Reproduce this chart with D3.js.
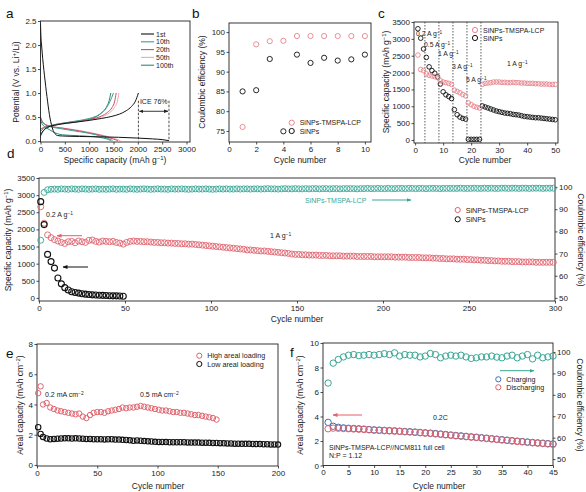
<!DOCTYPE html>
<html><head><meta charset="utf-8">
<script src="https://cdn.jsdelivr.net/npm/d3@7"></script>
<style>
body{margin:0;background:#fff;}
svg{display:block;font-family:"Liberation Sans",Arial,sans-serif;}
</style></head><body>
<svg id="fig" width="586" height="492"></svg>
<script>
// ---------------- DATA ----------------
// Panel a: voltage profiles [capacity mAh/g, potential V]
const aDis1st = [[0,2.45],[8,2.2],[22,2.0],[45,1.72],[70,1.47],[95,1.25],[120,1.03],[145,0.83],[170,0.64],[195,0.48],[225,0.34],[260,0.22],[300,0.15],[350,0.115],[450,0.105],[800,0.095],[1200,0.088],[1600,0.078],[2000,0.062],[2300,0.045],[2500,0.03],[2640,0.008]];
const aCh1st = [[0,0.13],[60,0.22],[150,0.29],[250,0.32],[450,0.36],[700,0.39],[1000,0.43],[1250,0.47],[1450,0.51],[1620,0.56],[1760,0.63],[1870,0.72],[1950,0.83],[2012,1.0]];
const aDis10 = [[0,0.48],[30,0.4],[80,0.35],[200,0.3],[400,0.26],[700,0.21],[1000,0.16],[1250,0.1],[1400,0.05],[1480,0.01]];
const aCh10 = [[0,0.2],[60,0.26],[200,0.32],[450,0.37],[750,0.42],[1000,0.47],[1150,0.52],[1270,0.6],[1360,0.7],[1430,0.83],[1500,1.0]];
const aDis20 = [[0,0.5],[30,0.42],[80,0.36],[200,0.31],[450,0.27],[800,0.21],[1100,0.15],[1350,0.09],[1500,0.04],[1590,0.01]];
const aCh20 = [[0,0.24],[60,0.28],[200,0.32],[450,0.37],[750,0.41],[1050,0.46],[1250,0.52],[1380,0.6],[1470,0.7],[1525,0.83],[1555,1.0]];
const aDis50 = [[0,0.49],[30,0.42],[80,0.36],[200,0.31],[450,0.27],[800,0.22],[1150,0.15],[1400,0.09],[1550,0.04],[1640,0.01]];
const aCh50 = [[0,0.25],[60,0.28],[200,0.32],[450,0.36],[750,0.41],[1050,0.45],[1280,0.51],[1420,0.59],[1520,0.7],[1580,0.83],[1610,1.0]];
const aDis100 = [[0,0.44],[30,0.36],[80,0.3],[180,0.24],[300,0.17],[450,0.13],[800,0.11],[1100,0.09],[1300,0.06],[1400,0.03],[1440,0.01]];
const aCh100 = [[0,0.1],[50,0.2],[150,0.28],[300,0.33],[550,0.37],[800,0.41],[1000,0.45],[1150,0.51],[1260,0.59],[1350,0.7],[1410,0.84],[1445,1.0]];
const aLegend = ["1st","10th","20th","50th","100th"];
const aColors = ["#111111","#3f9e8e","#c9506a","#f2a7ae","#2b8a7c"];
const aIce = {x0:2012, x1:2640, label:"ICE 76%"};

// Panel b: Coulombic efficiency, first 10 cycles
const bCycles = [1,2,3,4,5,6,7,8,9,10];
const bLCP = [76.0,96.9,97.7,97.8,99.0,99.0,99.0,99.0,99.0,99.0];
const bSi  = [85.0,85.3,93.2,74.9,94.3,92.2,93.5,92.8,93.1,94.3];

// Panel c: rate capability
const cCycles = d3.range(1,51);
const cLCP = [2520,2090,2060,1960,1920,1900,1880,1850,1760,1720,
              1700,1680,1650,1480,1440,1400,1350,1310,1100,1050,
              1000,970,950,1650,1680,1690,1700,1720,1720,1720,
              1710,1710,1700,1700,1710,1700,1700,1690,1690,1680,
              1680,1680,1670,1670,1660,1660,1660,1650,1650,1650];
const cSi = [3300,3020,2700,2450,2170,2060,1980,1870,1660,1430,
             1340,1290,1230,900,750,680,640,620,20,20,
             20,20,20,1010,980,950,920,890,860,840,
             820,800,790,780,760,750,740,720,700,690,
             680,670,660,660,650,640,630,620,610,600];
const cRateLines = [3.5,8.5,13.5,18.5,23.5];

// Panel d: long cycling at 1 A/g (every second cycle)
const dCycles = d3.range(1,300,2);
const dLCP = [2660,2180,1840,1760,1700,1660,1620,1590,1640,1650,
              1610,1660,1640,1620,1680,1690,1650,1630,1660,1650,
              1640,1650,1620,1600,1570,1620,1650,1660,1650,1650,
              1640,1640,1630,1620,1620,1610,1610,1600,1600,1590,
              1590,1580,1580,1570,1570,1560,1550,1540,1530,1520,
              1510,1500,1490,1480,1470,1460,1450,1440,1430,1420,
              1400,1400,1390,1380,1370,1370,1360,1350,1340,1330,
              1320,1310,1300,1280,1270,1270,1260,1260,1250,1250,
              1250,1240,1240,1240,1230,1230,1230,1230,1220,1220,
              1220,1220,1210,1210,1210,1210,1210,1200,1200,1200,
              1200,1200,1200,1190,1190,1190,1190,1180,1180,1180,
              1180,1170,1170,1170,1160,1160,1150,1150,1140,1140,
              1140,1130,1130,1130,1120,1120,1110,1110,1100,1100,
              1090,1090,1080,1080,1070,1070,1070,1060,1060,1060,
              1050,1050,1050,1050,1040,1040,1040,1040,1040,1040];
const dCE = [76.0,97.6,98.8,99.0,99.1,99.0,99.2,99.1,99.0,99.2,
             99.1,99.0,99.2,99.1,99.0,99.1,99.2,99.0,99.1,99.0,
             99.1,99.2,99.0,99.1,99.1,99.0,99.2,99.1,99.0,99.1,
             99.2,99.1,99.0,99.1,99.2,99.1,99.1,99.0,99.2,99.1,
             99.1,99.2,99.1,99.0,99.1,99.2,99.1,99.1,99.2,99.1,
             99.0,99.1,99.2,99.1,99.2,99.1,99.1,99.2,99.1,99.2,
             99.2,99.1,99.2,99.2,99.1,99.2,99.3,99.2,99.2,99.1,
             99.2,99.3,99.2,99.2,99.3,99.2,99.2,99.3,99.2,99.3,
             99.3,99.2,99.3,99.3,99.2,99.3,99.3,99.2,99.3,99.3,
             99.3,99.3,99.2,99.3,99.3,99.4,99.3,99.3,99.4,99.3,
             99.3,99.4,99.3,99.3,99.4,99.4,99.3,99.4,99.4,99.3,
             99.4,99.4,99.3,99.4,99.4,99.4,99.3,99.4,99.4,99.4,
             99.4,99.4,99.5,99.4,99.4,99.4,99.5,99.4,99.4,99.5,
             99.4,99.5,99.4,99.4,99.5,99.5,99.4,99.5,99.5,99.4,
             99.5,99.5,99.4,99.5,99.5,99.5,99.4,99.5,99.5,99.5];
const dSiCycles = d3.range(1,50,2);
const dSi = [2810,2140,1270,1060,870,580,410,300,230,180,
             160,140,120,110,100,90,85,80,75,70,
             65,60,60,55,50];

// Panel e: areal loading
const eHighCycles = [1,3].concat(d3.range(5,151,3));
const eHigh = [4.75,5.2,4.0,4.1,3.8,3.7,3.6,3.55,3.5,3.45,
               3.4,3.35,3.4,3.2,3.1,3.3,3.45,3.5,3.5,3.45,
               3.55,3.6,3.65,3.7,3.8,3.75,3.8,3.8,3.85,3.9,
               3.85,3.8,3.75,3.7,3.65,3.6,3.6,3.55,3.5,3.5,
               3.45,3.45,3.4,3.35,3.3,3.3,3.25,3.2,3.15,3.1,3.0];
const eLowCycles = [1,3].concat(d3.range(5,201,3));
const eLow = [2.5,2.05,1.85,1.75,1.7,1.72,1.74,1.75,1.76,1.76,
              1.75,1.76,1.75,1.74,1.72,1.72,1.7,1.7,1.7,1.69,
              1.7,1.7,1.68,1.68,1.66,1.65,1.63,1.6,1.62,1.6,
              1.58,1.56,1.55,1.53,1.52,1.52,1.51,1.5,1.5,1.5,
              1.5,1.5,1.49,1.48,1.48,1.48,1.47,1.47,1.46,1.45,
              1.45,1.44,1.43,1.42,1.42,1.41,1.41,1.4,1.4,1.4,
              1.39,1.38,1.38,1.37,1.37,1.36,1.36,1.35];

// Panel f: full cell
const fCycles = d3.range(1,46);
const fDis = [3.0,3.05,3.04,3.02,3.0,2.98,2.96,2.94,2.91,2.88,
              2.86,2.84,2.82,2.8,2.78,2.75,2.73,2.7,2.67,2.64,
              2.61,2.58,2.54,2.5,2.46,2.42,2.39,2.35,2.31,2.28,
              2.24,2.2,2.16,2.12,2.08,2.04,2.0,1.96,1.93,1.89,
              1.85,1.82,1.79,1.76,1.73];
const fCh = [3.52,3.2,3.12,3.07,3.04,3.02,3.0,2.97,2.94,2.91,
             2.89,2.87,2.85,2.83,2.8,2.78,2.76,2.73,2.7,2.67,
             2.64,2.61,2.57,2.53,2.49,2.45,2.42,2.38,2.34,2.31,
             2.27,2.23,2.19,2.15,2.11,2.07,2.03,1.99,1.96,1.92,
             1.88,1.85,1.82,1.79,1.76];
const fCE = [85.5,94.8,96.5,97.7,98.5,98.8,98.3,98.5,98.8,98.5,
             98.8,99.2,98.8,99.6,98.1,98.8,98.5,98.5,97.7,98.1,
             99.3,98.8,97.3,98.1,98.5,98.1,98.5,97.7,97.0,97.3,
             97.7,97.7,98.1,97.6,97.3,98.1,98.5,97.3,98.1,98.8,
             96.8,98.5,97.3,97.7,98.1];

// ---------------- DRAWING ----------------
const FONT = '"Liberation Sans", Arial, sans-serif';
const INK = "#222";
const RED = "#e0626d", RED_B = "#e8848d", TEAL = "#38a796", BLUE = "#3e70b8", BLACK = "#111";
const svg = d3.select("#fig");

const defs = svg.append("defs");
function arrowMarker(id, color){
  defs.append("marker").attr("id",id).attr("viewBox","0 0 10 10").attr("refX",9).attr("refY",5)
    .attr("markerWidth",5).attr("markerHeight",5).attr("orient","auto-start-reverse")
    .append("path").attr("d","M0,1 L10,5 L0,9 Z").attr("fill",color);
}
arrowMarker("arR",RED); arrowMarker("arK",BLACK); arrowMarker("arT",TEAL); arrowMarker("arI","#222");

function styleAxis(sel){
  sel.select(".domain").remove();
  sel.selectAll("line").attr("stroke",INK).attr("stroke-width",0.8);
  sel.selectAll("text").attr("font-size",8).attr("fill",INK).attr("font-family",FONT);
}
function frame(g,x,y){
  const [x0,x1]=x.range(), [y0,y1]=y.range();
  g.append("rect").attr("x",x0).attr("y",y1).attr("width",x1-x0).attr("height",y0-y1)
    .attr("fill","none").attr("stroke",INK).attr("stroke-width",0.9);
}
function axes(g,x,y,o){
  g.append("g").attr("transform",`translate(0,${y.range()[0]})`)
   .call(d3.axisBottom(x).tickValues(o.xt).tickFormat(o.xf||d3.format("d")).tickSize(2.5).tickPadding(1.5))
   .call(styleAxis);
  g.append("g").attr("transform",`translate(${x.range()[0]},0)`)
   .call(d3.axisLeft(y).tickValues(o.yt).tickFormat(o.yf||d3.format("d")).tickSize(2.5).tickPadding(1.5))
   .call(styleAxis);
  if(o.y2){
    g.append("g").attr("transform",`translate(${x.range()[1]},0)`)
     .call(d3.axisRight(o.y2).tickValues(o.y2t).tickFormat(d3.format("d")).tickSize(2.5).tickPadding(1.5))
     .call(styleAxis);
  }
  frame(g,x,y);
}
// rich text: parts = array of strings or {sup:"..."}
function rich(x,y,parts,o={}){
  const size=o.size||8.5;
  const t=svg.append("text").attr("x",x).attr("y",y).attr("font-size",size)
    .attr("text-anchor",o.anchor||"middle").attr("fill",o.fill||INK).attr("font-family",FONT);
  if(o.rotate) t.attr("transform",`rotate(${o.rotate},${x},${y})`);
  let up=false;
  parts.forEach(p=>{
    if(typeof p==="string"){
      const s=t.append("tspan").text(p);
      if(up){ s.attr("dy",size*0.35); up=false; }
    } else {
      t.append("tspan").text(p.sup).attr("font-size",size*0.7).attr("dy",-size*0.35);
      up=true;
    }
  });
  return t;
}
function letter(x,y,s){
  svg.append("text").attr("x",x).attr("y",y).attr("font-size",13.5).attr("fill","#111").attr("font-family",FONT).text(s);
}
function dots(g,xs,ys,x,y,color,r,sw){
  g.append("g").selectAll("circle").data(xs.map((d,i)=>[d,ys[i]])).join("circle")
    .attr("cx",d=>x(d[0])).attr("cy",d=>y(d[1])).attr("r",r)
    .attr("fill","none").attr("stroke",color).attr("stroke-width",sw||0.9);
}
function arrow(x1,y1,x2,y2,color,id){
  svg.append("line").attr("x1",x1).attr("y1",y1).attr("x2",x2).attr("y2",y2)
    .attr("stroke",color).attr("stroke-width",1).attr("marker-end",`url(#${id})`);
}
function legendDot(x,y,color,label,size){
  svg.append("circle").attr("cx",x).attr("cy",y).attr("r",2.6).attr("fill","none").attr("stroke",color).attr("stroke-width",1);
  svg.append("text").attr("x",x+8).attr("y",y+2.5).attr("font-size",size||7).attr("fill",INK).attr("font-family",FONT).text(label);
}
function txt(x,y,parts,size,fill){ return rich(x,y,parts,{size:size||7,anchor:"start",fill:fill||INK}); }
const capLabel = ["Specific capacity (mAh g",{sup:"−1"},")"];

// ===== Panel a =====
{
  const g=svg.append("g");
  const x=d3.scaleLinear().domain([0,3072]).range([40.5,190]);
  const y=d3.scaleLinear().domain([-0.02,2.5]).range([142,21]);
  const line=d3.line().x(d=>x(d[0])).y(d=>y(d[1])).curve(d3.curveMonotoneX);
  const series=[[aDis100,aCh100,4],[aDis50,aCh50,3],[aDis20,aCh20,2],[aDis10,aCh10,1],[aDis1st,aCh1st,0]];
  series.forEach(([dis,ch,ci])=>{
    [dis,ch].forEach(s=>g.append("path").attr("d",line(s)).attr("fill","none").attr("stroke",aColors[ci]).attr("stroke-width",1));
  });
  // ICE annotation
  [aIce.x0,aIce.x1].forEach(v=>g.append("line").attr("x1",x(v)).attr("x2",x(v)).attr("y1",y(0.84)).attr("y2",y(0))
      .attr("stroke","#222").attr("stroke-width",0.8).attr("stroke-dasharray","2.5,1.5"));
  g.append("line").attr("x1",x(aIce.x0)+1).attr("x2",x(aIce.x1)-1).attr("y1",y(0.62)).attr("y2",y(0.62))
    .attr("stroke","#222").attr("stroke-width",0.9).attr("marker-end","url(#arI)").attr("marker-start","url(#arI)");
  g.append("text").attr("x",x((aIce.x0+aIce.x1)/2)).attr("y",y(0.78)).attr("text-anchor","middle")
    .attr("font-size",7).attr("fill",INK).attr("font-family",FONT).text(aIce.label);
  axes(g,x,y,{xt:d3.range(0,3001,500),yt:[0,0.5,1,1.5,2,2.5],yf:d3.format(".1f")});
  // legend
  aLegend.forEach((l,i)=>{
    const yy=34+i*7.8;
    g.append("line").attr("x1",141).attr("x2",154).attr("y1",yy).attr("y2",yy).attr("stroke",aColors[i]).attr("stroke-width",1.1);
    g.append("text").attr("x",156).attr("y",yy+2.5).attr("font-size",7).attr("fill",INK).attr("font-family",FONT).text(l);
  });
  rich(115,162.5,capLabel);
  rich(19,82,["Potential (V vs. Li",{sup:"+"},"/Li)"],{rotate:-90});
  letter(6,18,"a");
}

// ===== Panel b =====
{
  const g=svg.append("g");
  const x=d3.scaleLinear().domain([0,10.45]).range([229,371]);
  const y=d3.scaleLinear().domain([72.2,102.3]).range([142,23]);
  axes(g,x,y,{xt:d3.range(0,11,2),yt:d3.range(75,101,5)});
  dots(g,bCycles,bSi,x,y,BLACK,2.6);
  dots(g,bCycles,bLCP,x,y,RED_B,2.6);
  legendDot(291.7,122.7,RED_B,"SiNPs-TMSPA-LCP");
  legendDot(291.7,131,BLACK,"SiNPs");
  rich(300,162.5,["Cycle number"]);
  rich(205,82,["Coulombic efficiency (%)"],{rotate:-90});
  letter(192,18,"b");
}

// ===== Panel c =====
{
  const g=svg.append("g");
  const x=d3.scaleLinear().domain([-0.4,51]).range([414,558]);
  const y=d3.scaleLinear().domain([-89,3500]).range([143,22]);
  cRateLines.forEach(v=>g.append("line").attr("x1",x(v)).attr("x2",x(v)).attr("y1",y.range()[1]).attr("y2",y.range()[0])
     .attr("stroke","#333").attr("stroke-width",0.8).attr("stroke-dasharray","1.5,1.5"));
  axes(g,x,y,{xt:d3.range(0,51,10),yt:d3.range(0,3501,500)});
  dots(g,cCycles,cSi,x,y,BLACK,2.3);
  dots(g,cCycles,cLCP,x,y,RED_B,2.3);
  txt(416,36,["0.2 A g",{sup:"−1"}],6.8);
  txt(424,47,["0.5 A g",{sup:"−1"}],6.8);
  txt(438,56,["1 A g",{sup:"−1"}],6.8);
  txt(452,69,["3 A g",{sup:"−1"}],6.8);
  txt(466,82,["5 A g",{sup:"−1"}],6.8);
  txt(507,66,["1 A g",{sup:"−1"}],6.8);
  legendDot(475,30,RED_B,"SiNPs-TMSPA-LCP");
  legendDot(475,38,BLACK,"SiNPs");
  rich(485,163,["Cycle number"]);
  rich(389,82,capLabel,{rotate:-90});
  letter(378,18,"c");
}

// ===== Panel d =====
{
  const g=svg.append("g");
  const x=d3.scaleLinear().domain([0,300]).range([39,555]);
  const y=d3.scaleLinear().domain([-90,3500]).range([301,178]);
  const y2=d3.scaleLinear().domain([48.6,104.1]).range([301,178]);
  axes(g,x,y,{xt:d3.range(0,301,50),yt:d3.range(0,3501,500),y2:y2,y2t:d3.range(50,101,10)});
  dots(g,dCycles,dCE,x,y2,TEAL,3,0.9);
  dots(g,dCycles,dLCP,x,y,RED,3,0.9);
  dots(g,dSiCycles,dSi,x,y,BLACK,3,1.1);
  txt(46,217,["0.2 A g",{sup:"−1"}],7);
  txt(270,238,["1 A g",{sup:"−1"}],7);
  arrow(82,235.7,57,235.7,RED,"arR");
  arrow(88,267,63,267,BLACK,"arK");
  txt(305,202.5,["SiNPs-TMSPA-LCP"],7,TEAL);
  arrow(372,200,411,200,TEAL,"arT");
  legendDot(457.7,210,RED,"SiNPs-TMSPA-LCP",7.2);
  legendDot(457.7,219.3,BLACK,"SiNPs",7.2);
  rich(297,322,["Cycle number"]);
  rich(11,240,capLabel,{rotate:-90});
  rich(578,240,["Coulombic efficiency (%)"],{rotate:90});
  letter(7,158,"d");
}

// ===== Panel e =====
{
  const g=svg.append("g");
  const x=d3.scaleLinear().domain([0,200]).range([37,278]);
  const y=d3.scaleLinear().domain([-0.07,8]).range([466,344]);
  axes(g,x,y,{xt:d3.range(0,201,50),yt:d3.range(0,9,2)});
  dots(g,eLowCycles,eLow,x,y,BLACK,2.7,1.1);
  dots(g,eHighCycles,eHigh,x,y,RED,2.7,1);
  txt(45,397,["0.2 mA cm",{sup:"−2"}],7);
  txt(140,397,["0.5 mA cm",{sup:"−2"}],7);
  legendDot(199.3,355.7,RED,"High areal loading",7.2);
  legendDot(199.3,364,BLACK,"Low areal loading",7.2);
  rich(158,488.5,["Cycle number"]);
  rich(23,405,["Areal capacity (mAh cm",{sup:"−2"},")"],{rotate:-90});
  letter(6,358,"e");
}

// ===== Panel f =====
{
  const g=svg.append("g");
  const x=d3.scaleLinear().domain([0,45]).range([323,553]);
  const y=d3.scaleLinear().domain([0,10]).range([465.5,343]);
  const y2=d3.scaleLinear().domain([47,104.2]).range([465.5,343]);
  axes(g,x,y,{xt:d3.range(0,46,5),yt:d3.range(0,11,2),y2:y2,y2t:d3.range(50,101,10)});
  dots(g,fCycles,fCE,x,y2,TEAL,3.2,1);
  dots(g,fCycles,fCh,x,y,BLUE,3.2,1);
  dots(g,fCycles,fDis,x,y,RED,3.2,1);
  txt(433,420,["0.2C"],7);
  txt(329,450,["SiNPs-TMSPA-LCP//NCM811 full cell"],7);
  txt(329,458,["N:P = 1.12"],7);
  arrow(362,415,333,415,RED,"arR");
  arrow(500,370.7,534,370.7,TEAL,"arT");
  legendDot(498.3,379.3,BLUE,"Charging",7.2);
  legendDot(498.3,387.3,RED,"Discharging",7.2);
  rich(439,488.5,["Cycle number"]);
  rich(303,405,["Areal capacity (mAh cm",{sup:"−2"},")"],{rotate:-90});
  rich(577,405,["Coulombic efficiency (%)"],{rotate:90});
  letter(290,357,"f");
}
</script></body></html>
